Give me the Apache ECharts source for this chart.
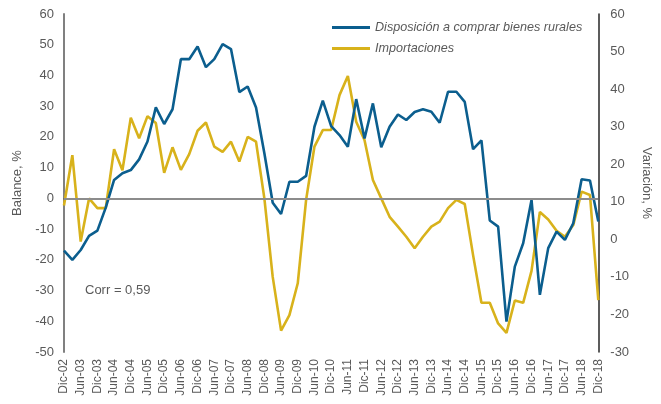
<!DOCTYPE html>
<html>
<head>
<meta charset="utf-8">
<script src="https://cdn.jsdelivr.net/npm/echarts@6/dist/echarts.min.js"></script>
<style>
  html, body { margin: 0; padding: 0; background: #fff; }
  #chart { width: 661px; height: 404px; }
</style>
</head>
<body>
<div id="chart"></div>
<script>
// trimestres, Dic-02 .. Dic-18
var quarters = [
    "Dic-02", "Mar-03", "Jun-03", "Sep-03", "Dic-03", "Mar-04", "Jun-04", "Sep-04",
    "Dic-04", "Mar-05", "Jun-05", "Sep-05", "Dic-05", "Mar-06", "Jun-06", "Sep-06",
    "Dic-06", "Mar-07", "Jun-07", "Sep-07", "Dic-07", "Mar-08", "Jun-08", "Sep-08",
    "Dic-08", "Mar-09", "Jun-09", "Sep-09", "Dic-09", "Mar-10", "Jun-10", "Sep-10",
    "Dic-10", "Mar-11", "Jun-11", "Sep-11", "Dic-11", "Mar-12", "Jun-12", "Sep-12",
    "Dic-12", "Mar-13", "Jun-13", "Sep-13", "Dic-13", "Mar-14", "Jun-14", "Sep-14",
    "Dic-14", "Mar-15", "Jun-15", "Sep-15", "Dic-15", "Mar-16", "Jun-16", "Sep-16",
    "Dic-16", "Mar-17", "Jun-17", "Sep-17", "Dic-17", "Mar-18", "Jun-18", "Sep-18",
    "Dic-18"
];

// Disposición a comprar bienes rurales (balance, eje izq.)
var disposicion = [
    -17, -20, -16.8, -12.2, -10.5, -3, 6, 8.2, 9.2, 12.7,
    18.5, 29.6, 24.2, 29, 45.3, 45.3, 49.4, 42.7, 45.3, 50.2,
    48.6, 34.6, 36.4, 29.6, 14.7, -1.4, -5.1, 5.4, 5.4, 7.3,
    23.3, 31.8, 23.5, 20.6, 16.8, 32.3, 19.5, 30.9, 16.6, 23.3,
    27.3, 25.5, 28.1, 29, 28.2, 24.6, 34.7, 34.7, 31.4, 16,
    18.9, -7.2, -9.2, -40.1, -22.2, -14.6, -0.5, -31.4, -16.2, -10.8,
    -13.5, -8.1, 6.2, 5.8, -7.5
];

// Importaciones (variación %, eje der.)
var importaciones = [
    9, 22.4, -0.6, 10.9, 8.3, 8.3, 24, 18.4, 32.4, 26.9,
    32.8, 31, 17.7, 24.5, 18.5, 22.7, 28.9, 31.1, 24.7, 23.3,
    26, 20.7, 27.3, 26, 10.9, -10, -24.3, -20.2, -11.7, 10.5,
    24.7, 29.1, 29.1, 38.4, 43.5, 31.3, 26.4, 15.8, 10.9, 6,
    3.4, 0.7, -2.4, 0.7, 3.4, 4.7, 8.3, 10.5, 9.4, -4.2,
    -16.9, -16.9, -22.4, -24.9, -16.3, -16.9, -8.4, 7.3, 5.3, 2.3,
    0.7, 3.8, 12.7, 11.8, -16.2
];

var AZUL = "#0b5e8e";
var AMARILLO = "#d8b21b";
var GRIS = "#595959";
var FUENTE = "Liberation Sans, Arial, sans-serif";

var chart = echarts.init(document.getElementById("chart"));

chart.setOption({
    animation: false,
    textStyle: { fontFamily: FUENTE },
    grid: { left: 64, right: 56, top: 14, bottom: 52 },
    legend: {
        orient: "vertical",
        left: 327,
        top: 16,
        itemWidth: 38,
        itemHeight: 3,
        itemGap: 8,
        icon: "rect",
        textStyle: { color: GRIS, fontSize: 12.6, fontStyle: "italic", fontFamily: FUENTE },
        data: ["Disposición a comprar bienes rurales", "Importaciones"]
    },
    xAxis: {
        type: "category",
        data: quarters,
        boundaryGap: false,
        axisLine: { lineStyle: { color: "#404040", width: 1.5 } },
        axisTick: { show: false },
        axisLabel: { interval: 1, rotate: 90, color: GRIS, fontSize: 12, margin: 7 }
    },
    yAxis: [
        {
            type: "value",
            min: -50, max: 60, interval: 10,
            name: "Balance, %",
            nameLocation: "middle",
            nameGap: 37,
            nameTextStyle: { color: GRIS, fontSize: 13 },
            axisLine: { show: true, lineStyle: { color: "#808080", width: 2 } },
            axisTick: { show: false },
            splitLine: { show: false },
            axisLabel: { color: GRIS, fontSize: 13, margin: 10 }
        },
        {
            type: "value",
            min: -30, max: 60, interval: 10,
            name: "Variación, %",
            nameLocation: "middle",
            nameGap: 36,
            nameRotate: -90,
            nameTextStyle: { color: GRIS, fontSize: 13 },
            axisLine: { show: true, lineStyle: { color: "#262626", width: 1.5 } },
            axisTick: { show: false },
            splitLine: { show: false },
            axisLabel: { color: GRIS, fontSize: 13, margin: 12 }
        }
    ],
    graphic: [{
        type: "text",
        left: 85,
        top: 284,
        style: { text: "Corr = 0,59", fill: GRIS, font: "13px " + FUENTE }
    }],
    series: [
        {
            name: "Disposición a comprar bienes rurales",
            type: "line",
            yAxisIndex: 0,
            data: disposicion,
            showSymbol: false,
            z: 3,
            lineStyle: { color: AZUL, width: 2.6 },
            itemStyle: { color: AZUL },
            markLine: {
                silent: true,
                symbol: "none",
                label: { show: false },
                lineStyle: { color: "#8c8c8c", width: 2, type: "solid" },
                data: [{ yAxis: 0 }]
            }
        },
        {
            name: "Importaciones",
            type: "line",
            yAxisIndex: 1,
            data: importaciones,
            showSymbol: false,
            z: 2,
            lineStyle: { color: AMARILLO, width: 2.6 },
            itemStyle: { color: AMARILLO }
        }
    ]
});
</script>
</body>
</html>
